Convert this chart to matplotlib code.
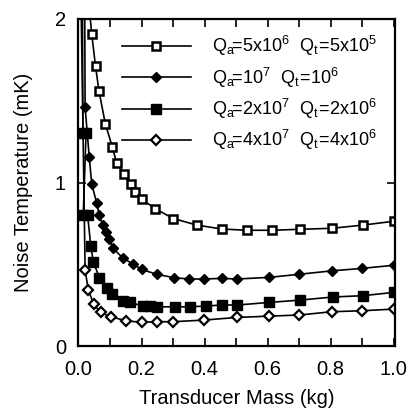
import numpy as np
import matplotlib
matplotlib.use("Agg")
import matplotlib.pyplot as plt

plt.rcParams['font.family'] = ['Liberation Sans', 'DejaVu Sans']
plt.rcParams['mathtext.fontset'] = 'custom'
plt.rcParams['mathtext.rm'] = 'Liberation Sans'
plt.rcParams['mathtext.it'] = 'Liberation Sans:italic'

# data (some first points lie above the plot)
mass1 = [0.025, 0.042, 0.054, 0.065, 0.085, 0.107, 0.121, 0.144, 0.166, 0.179, 0.200,
         0.243, 0.301, 0.375, 0.454, 0.534, 0.613, 0.703, 0.804, 0.904, 1.0]
temp1 = [2.25, 1.91, 1.71, 1.56, 1.36, 1.22, 1.12, 1.05, 0.99, 0.94, 0.90,
         0.84, 0.78, 0.74, 0.716, 0.708, 0.708, 0.714, 0.72, 0.74, 0.763]

mass2 = [0.019, 0.021, 0.034, 0.042, 0.058, 0.066, 0.077, 0.086, 0.098, 0.110, 0.140,
         0.174, 0.200, 0.248, 0.304, 0.351, 0.398, 0.455, 0.502, 0.605, 0.701,
         0.804, 0.900, 1.0]
temp2 = [2.4, 1.46, 1.158, 0.99, 0.873, 0.80, 0.74, 0.70, 0.653, 0.597, 0.54,
         0.50, 0.469, 0.439, 0.418, 0.41, 0.41, 0.414, 0.41, 0.42, 0.439,
         0.46, 0.475, 0.494]

mass3 = [0.012, 0.014, 0.024, 0.015, 0.029, 0.039, 0.047, 0.066, 0.090, 0.105, 0.142,
         0.163, 0.204, 0.227, 0.250, 0.306, 0.354, 0.404, 0.455, 0.504, 0.606,
         0.703, 0.807, 0.902, 1.0]
temp3 = [2.4, 1.305, 1.305, 0.80, 0.80, 0.612, 0.516, 0.418, 0.357, 0.316, 0.277,
         0.267, 0.245, 0.245, 0.24, 0.24, 0.24, 0.245, 0.251, 0.251, 0.267,
         0.281, 0.30, 0.308, 0.328]

mass4 = [0.005, 0.021, 0.031, 0.048, 0.070, 0.103, 0.151, 0.200, 0.248, 0.301, 0.398,
         0.502, 0.605, 0.701, 0.804, 0.900, 1.0]
temp4 = [2.5, 0.465, 0.345, 0.257, 0.206, 0.179, 0.155, 0.145, 0.149, 0.149, 0.159,
         0.175, 0.183, 0.19, 0.21, 0.216, 0.226]

labels = [r'$\mathrm{Q_a\!\!=\!5x10^6\ \ Q_t\!=\!5x10^5}$',
          r'$\mathrm{Q_a\!\!=\!10^7\ \ Q_t\!=\!10^6}$',
          r'$\mathrm{Q_a\!\!=\!2x10^7\ \ Q_t\!=\!2x10^6}$',
          r'$\mathrm{Q_a\!\!=\!4x10^7\ \ Q_t\!=\!4x10^6}$']

fig = plt.figure(figsize=(4.08, 4.12), dpi=100)
ax = fig.add_axes([0.1924, 0.160, 0.776, 0.794])

kw = dict(color='black', lw=1.2, clip_on=True)
ax.plot(mass1, temp1, marker='s', ms=6, mfc='white', mec='black', mew=1.8, label=labels[0], **kw)
ax.plot(mass2, temp2, marker='D', ms=5.5, mfc='black', mec='black', label=labels[1], **kw)
ax.plot(mass3, temp3, marker='s', ms=6.5, mfc='black', mec='black', label=labels[2], **kw)
ax.plot(mass4, temp4, marker='D', ms=5.5, mfc='white', mec='black', mew=1.6, label=labels[3], **kw)

ax.set_xlim(0, 1.005)
ax.set_ylim(0, 2)
ax.set_xticks([0, 0.2, 0.4, 0.6, 0.8, 1.0])
ax.set_xticklabels(['0.0', '0.2', '0.4', '0.6', '0.8', '1.0'])
ax.set_xticks(np.arange(0.1, 1.0, 0.2), minor=True)
ax.set_yticks([0, 1, 2])
ax.tick_params(which='both', direction='in', top=True, right=True,
               length=6, width=1.2, labelsize=14.5)
ax.tick_params(axis='x', pad=10)
ax.tick_params(axis='y', pad=9)
for s in ax.spines.values():
    s.set_linewidth(1.6)

ax.set_xlabel('Transducer Mass (kg)', fontsize=14.5, labelpad=7)
ax.set_ylabel('Noise Temperature (mK)', fontsize=14.5, labelpad=16)

ax.legend(loc='upper left', bbox_to_anchor=(0.115, 0.975), frameon=False, fontsize=13,
          handlelength=3.8, handletextpad=1.15, labelspacing=0.4, borderaxespad=0)

fig.savefig('out.png', dpi=100)
